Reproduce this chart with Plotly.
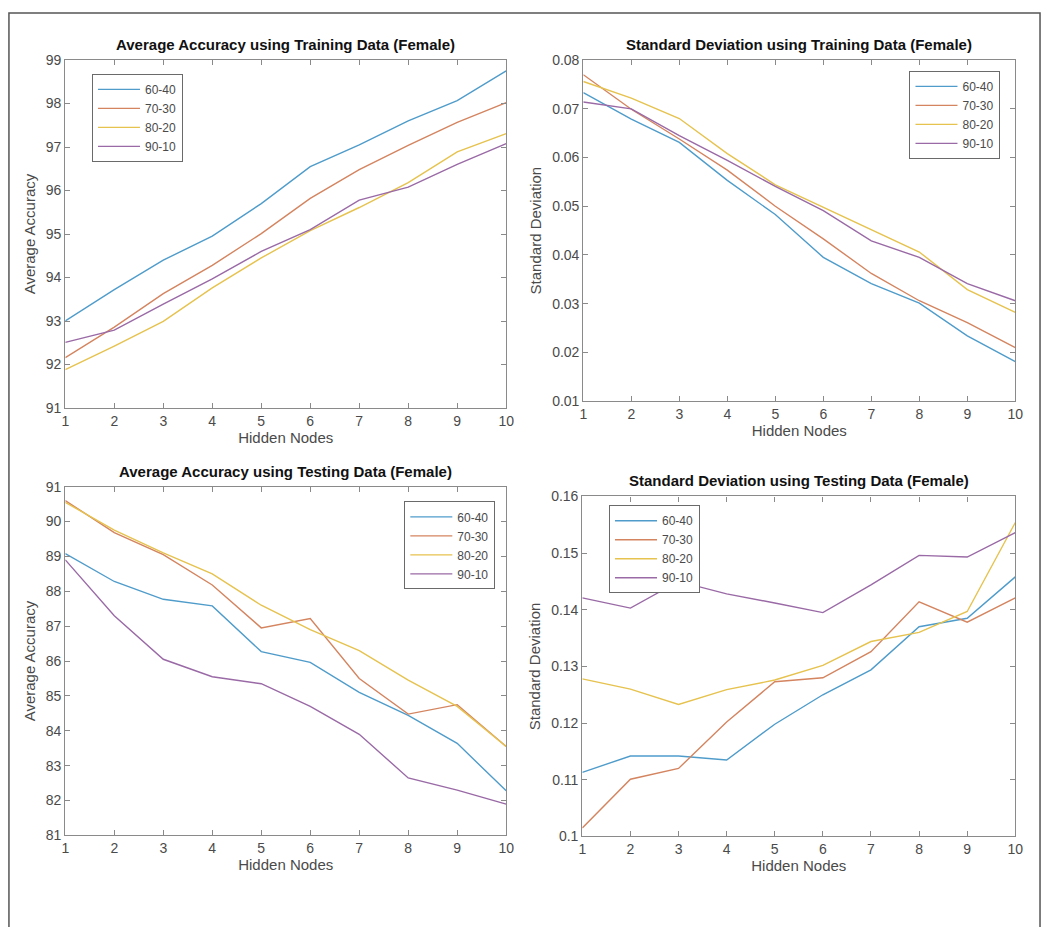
import plotly.graph_objects as go

# ---------------- data ----------------
hidden_nodes = [1, 2, 3, 4, 5, 6, 7, 8, 9, 10]
series_names = ["60-40", "70-30", "80-20", "90-10"]

# Average Accuracy using Training Data (Female)
train_acc_6040 = [93.00, 93.72, 94.40, 94.95, 95.70, 96.55, 97.05, 97.60, 98.07, 98.75]
train_acc_7030 = [92.16, 92.86, 93.63, 94.28, 95.01, 95.82, 96.48, 97.04, 97.57, 98.02]
train_acc_8020 = [91.88, 92.42, 92.99, 93.76, 94.45, 95.08, 95.61, 96.18, 96.89, 97.31]
train_acc_9010 = [92.51, 92.79, 93.39, 93.97, 94.60, 95.10, 95.78, 96.08, 96.60, 97.08]

# Standard Deviation using Training Data (Female)
train_sd_6040 = [0.0733, 0.0679, 0.0631, 0.0553, 0.0483, 0.0395, 0.0341, 0.0301, 0.0234, 0.0181]
train_sd_7030 = [0.0770, 0.0699, 0.0638, 0.0574, 0.0500, 0.0433, 0.0362, 0.0306, 0.0261, 0.0210]
train_sd_8020 = [0.0756, 0.0722, 0.0680, 0.0608, 0.0544, 0.0498, 0.0451, 0.0406, 0.0329, 0.0282]
train_sd_9010 = [0.0714, 0.0700, 0.0645, 0.0594, 0.0541, 0.0491, 0.0429, 0.0395, 0.0341, 0.0306]

# Average Accuracy using Testing Data (Female)
test_acc_6040 = [89.08, 88.28, 87.77, 87.58, 86.27, 85.96, 85.10, 84.44, 83.64, 82.28]
test_acc_7030 = [90.60, 89.68, 89.05, 88.18, 86.95, 87.22, 85.50, 84.48, 84.75, 83.55]
test_acc_8020 = [90.55, 89.75, 89.10, 88.50, 87.60, 86.90, 86.30, 85.45, 84.70, 83.55]
test_acc_9010 = [88.90, 87.30, 86.05, 85.55, 85.35, 84.70, 83.90, 82.65, 82.30, 81.90]

# Standard Deviation using Testing Data (Female)
test_sd_6040 = [0.1113, 0.1142, 0.1142, 0.1135, 0.1198, 0.1250, 0.1294, 0.1370, 0.1385, 0.1458]
test_sd_7030 = [0.1015, 0.1101, 0.1120, 0.1202, 0.1273, 0.1280, 0.1326, 0.1414, 0.1378, 0.1421]
test_sd_8020 = [0.1278, 0.1260, 0.1233, 0.1259, 0.1276, 0.1302, 0.1344, 0.1360, 0.1397, 0.1554]
test_sd_9010 = [0.1421, 0.1403, 0.1450, 0.1428, 0.1412, 0.1395, 0.1444, 0.1496, 0.1493, 0.1536]

titles = [
    "Average Accuracy using Training Data (Female)",
    "Standard Deviation using Training Data (Female)",
    "Average Accuracy using Testing Data (Female)",
    "Standard Deviation using Testing Data (Female)",
]
y_titles = ["Average Accuracy", "Standard Deviation", "Average Accuracy", "Standard Deviation"]
x_title = "Hidden Nodes"

ticks_train_acc = [91, 92, 93, 94, 95, 96, 97, 98, 99]
ticks_train_sd = [0.01, 0.02, 0.03, 0.04, 0.05, 0.06, 0.07, 0.08]
ticks_train_sd_text = ["0.01", "0.02", "0.03", "0.04", "0.05", "0.06", "0.07", "0.08"]
ticks_test_acc = [81, 82, 83, 84, 85, 86, 87, 88, 89, 90, 91]
ticks_test_sd = [0.10, 0.11, 0.12, 0.13, 0.14, 0.15, 0.16]
ticks_test_sd_text = ["0.1", "0.11", "0.12", "0.13", "0.14", "0.15", "0.16"]

# ---------------- styling ----------------
W, H = 1050, 927
colors = ["#4f9ccb", "#d4845f", "#e6c24e", "#9a6aa6"]
axis_col = "#8a8a8a"
text_col = "#4a4a4a"
FONT = "Liberation Sans, Arial, Helvetica, sans-serif"

def px_x(a, b):
    return [a / W, b / W]

def px_y(top, bottom):
    return [1 - bottom / H, 1 - top / H]

panels = [
    dict(data=[train_acc_6040, train_acc_7030, train_acc_8020, train_acc_9010],
         xd=px_x(62, 508), yd=px_y(53, 407),
         yrange=[91, 99], yt=ticks_train_acc, ytt=[str(v) for v in ticks_train_acc],
         legend=dict(x=89 / W, y=1 - 67 / H, xanchor="left", yanchor="top")),
    dict(data=[train_sd_6040, train_sd_7030, train_sd_8020, train_sd_9010],
         xd=px_x(586, 1023), yd=px_y(53, 400),
         yrange=[0.01, 0.08], yt=ticks_train_sd, ytt=ticks_train_sd_text,
         legend=dict(x=1008 / W, y=1 - 64 / H, xanchor="right", yanchor="top")),
    dict(data=[test_acc_6040, test_acc_7030, test_acc_8020, test_acc_9010],
         xd=px_x(62, 508), yd=px_y(487, 842),
         yrange=[81, 91], yt=ticks_test_acc, ytt=[str(v) for v in ticks_test_acc],
         legend=dict(x=497 / W, y=1 - 502 / H, xanchor="right", yanchor="top")),
    dict(data=[test_sd_6040, test_sd_7030, test_sd_8020, test_sd_9010],
         xd=px_x(585, 1023), yd=px_y(497, 843),
         yrange=[0.10, 0.16], yt=ticks_test_sd, ytt=ticks_test_sd_text,
         legend=dict(x=612 / W, y=1 - 506 / H, xanchor="left", yanchor="top")),
]

fig = go.Figure()
layout = dict(
    width=W, height=H,
    margin=dict(l=0, r=0, t=0, b=0),
    paper_bgcolor="white", plot_bgcolor="white",
    font=dict(family=FONT, color=text_col, size=13),
    annotations=[], shapes=[],
)

for i, p in enumerate(panels):
    n = "" if i == 0 else str(i + 1)
    xa, ya = "x" + n, "y" + n
    lg = "legend" if i == 0 else "legend" + str(i + 1)
    for j, (name, vals) in enumerate(zip(series_names, p["data"])):
        fig.add_trace(go.Scatter(
            x=hidden_nodes, y=vals, name=name, mode="lines",
            line=dict(color=colors[j], width=1.4),
            xaxis=xa, yaxis=ya, legend=lg,
        ))
    common = dict(showline=True, linecolor=axis_col, linewidth=1.2, mirror="ticks",
                  ticks="inside", ticklen=5, tickcolor=axis_col, showgrid=False,
                  zeroline=False, tickfont=dict(size=14, color=text_col))
    layout["xaxis" + n] = dict(domain=p["xd"], anchor=ya, range=[1, 10],
                               tickvals=hidden_nodes, ticktext=[str(v) for v in hidden_nodes],
                               title=dict(text=x_title, font=dict(size=15, color=text_col), standoff=2),
                               **common)
    layout["yaxis" + n] = dict(domain=p["yd"], anchor=xa, range=p["yrange"],
                               tickvals=p["yt"], ticktext=p["ytt"],
                               title=dict(text=y_titles[i], font=dict(size=15, color=text_col), standoff=6),
                               **common)
    layout[lg] = dict(**p["legend"], bgcolor="white", bordercolor="#6a6a6a", borderwidth=1,
                      font=dict(size=12, color=text_col), tracegroupgap=0,
                      itemwidth=42)
    layout["annotations"].append(dict(
        text="<b>" + titles[i] + "</b>", xref=xa + " domain", yref=ya + " domain",
        x=0.5, y=1, xanchor="center", yanchor="bottom", yshift=5, showarrow=False,
        font=dict(size=15, color="#111111", family=FONT)))

# outer frame of the figure
layout["shapes"].append(dict(type="rect", xref="paper", yref="paper",
                             x0=5 / W, x1=1048 / W, y0=-0.01, y1=1 - 5 / H,
                             line=dict(color="#555555", width=1.5)))

fig.update_layout(**layout)
fig.write_html("out.html")
